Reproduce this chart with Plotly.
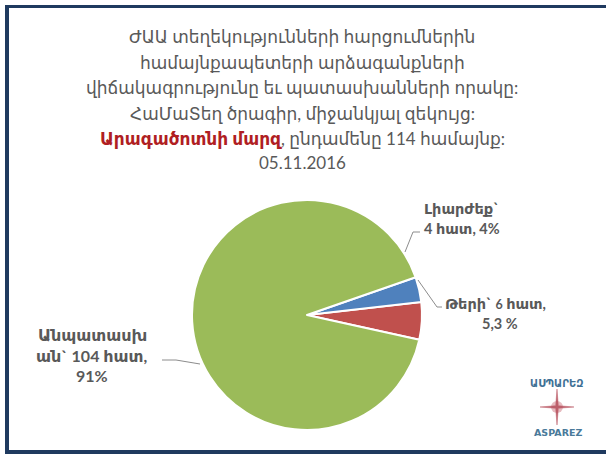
import plotly.graph_objects as go

# ---- data ----
categories = ["Թերի", "Լիարժեք", "Անպատասխան"]
counts = [6, 4, 104]
percent_labels = ["5,3 %", "4%", "91%"]
colors = ["#C0504D", "#4F81BD", "#9BBB59"]

title_lines = [
    "ԺԱԱ տեղեկությունների հարցումներին",
    "համայնքապետերի արձագանքների",
    "վիճակագրությունը եւ պատասխանների որակը:",
    "ՀաՄաՏեղ ծրագիր, միջանկյալ զեկույց:",
    "<b><span style='color:#B01E23'>Արագածոտնի մարզ</span></b>, ընդամենը 114 համայնք:",
    "05.11.2016",
]

W, H = 606, 456
FONT = "Lato, 'DejaVu Sans', sans-serif"
GRAY = "#595959"

def px(x):
    return x / W

def py(y):
    return 1 - y / H

fig = go.Figure()

# pie: center / radius in pixels
cx, cy, r = 307, 315, 115
fig.add_trace(go.Pie(
    labels=categories,
    values=counts,
    sort=False,
    direction="counterclockwise",
    rotation=83.5,
    marker=dict(colors=colors, line=dict(color="white", width=2)),
    textinfo="none",
    hoverinfo="label+value+percent",
    showlegend=False,
    domain=dict(x=[px(cx - r), px(cx + r)], y=[py(cy + r), py(cy - r)]),
))

annotations = []
ys = [37, 62.5, 88, 113.5, 138.5, 163]
for t, y in zip(title_lines, ys):
    annotations.append(dict(
        text=t, x=px(302), y=py(y), xref="paper", yref="paper",
        xanchor="center", yanchor="middle", showarrow=False,
        font=dict(family=FONT, size=17, color=GRAY),
    ))

lab_font = dict(family=FONT, size=14.5, color=GRAY)
# Լիարժեք label
annotations.append(dict(text=f"<b>{categories[1]}`</b>", x=px(422), y=py(208), xref="paper", yref="paper",
                        xanchor="left", yanchor="middle", showarrow=False, font=lab_font))
annotations.append(dict(text=f"<b>{counts[1]} հատ, {percent_labels[1]}</b>", x=px(422), y=py(229), xref="paper", yref="paper",
                        xanchor="left", yanchor="middle", showarrow=False, font=lab_font))
# Թերի label
annotations.append(dict(text=f"<b>{categories[0]}` </b><b style='font-size:12.5px'>{counts[0]}</b><b> հատ,</b>", x=px(443), y=py(303), xref="paper", yref="paper",
                        xanchor="left", yanchor="middle", showarrow=False, font=lab_font))
annotations.append(dict(text=f"<b>{percent_labels[0]}</b>", x=px(500), y=py(323), xref="paper", yref="paper",
                        xanchor="center", yanchor="middle", showarrow=False, font=lab_font))
# Անպատասխան label
green_font = dict(family=FONT, size=16, color=GRAY)
green_lines = ["Անպատասխ", f"ան` {counts[2]} հատ,", percent_labels[2]]
for t, y in zip(green_lines, [334, 355, 375]):
    annotations.append(dict(text=f"<b>{t}</b>", x=px(92), y=py(y), xref="paper", yref="paper",
                            xanchor="center", yanchor="middle", showarrow=False, font=green_font))

# logo
annotations.append(dict(text="<b>ԱՍՊԱՐԵԶ</b>", x=px(557), y=py(383), xref="paper", yref="paper",
                        xanchor="center", yanchor="middle", showarrow=False,
                        font=dict(family=FONT, size=10, color="#3F7195")))
annotations.append(dict(text="<b>ASPAREZ</b>", x=px(558), y=py(432), xref="paper", yref="paper",
                        xanchor="center", yanchor="middle", showarrow=False,
                        font=dict(family="'DejaVu Sans', sans-serif", size=9.5, color="#4A7A9A")))

shapes = []
line_style = dict(color="#8C8C8C", width=1)
def path(points):
    d = "M " + " L ".join(f"{px(x)},{py(y)}" for x, y in points)
    return d

shapes.append(dict(type="path", xref="paper", yref="paper", path=path([(405, 252), (413, 232), (420, 232)]), line=line_style))
shapes.append(dict(type="path", xref="paper", yref="paper", path=path([(418, 280), (437, 307), (442, 307)]), line=line_style))
shapes.append(dict(type="path", xref="paper", yref="paper", path=path([(162, 360), (176, 360), (200, 364)]), line=line_style))

# star
sx, sy = 557, 407
shapes.append(dict(type="circle", xref="paper", yref="paper", x0=px(sx - 6), x1=px(sx + 6), y0=py(sy + 6), y1=py(sy - 6),
                   fillcolor="rgba(205,120,130,0.5)", line=dict(width=0)))
star = [(sx, sy - 18), (sx + 1.3, sy - 1.3), (sx + 17, sy), (sx + 1.3, sy + 1.3), (sx, sy + 18),
        (sx - 1.3, sy + 1.3), (sx - 17, sy), (sx - 1.3, sy - 1.3)]
shapes.append(dict(type="path", xref="paper", yref="paper", path=path(star) + " Z",
                   fillcolor="#BC5E6A", line=dict(color="#BC5E6A", width=0.5)))

# frame
NAVY = "#1F3A5F"
shapes.append(dict(type="rect", xref="paper", yref="paper", x0=px(5), x1=px(606), y0=py(5), y1=py(8),
                   fillcolor=NAVY, line=dict(width=0)))
shapes.append(dict(type="rect", xref="paper", yref="paper", x0=px(5), x1=px(9), y0=py(453), y1=py(5),
                   fillcolor=NAVY, line=dict(width=0)))
shapes.append(dict(type="rect", xref="paper", yref="paper", x0=px(5), x1=px(606), y0=py(454), y1=py(450),
                   fillcolor=NAVY, line=dict(width=0)))

fig.update_layout(
    width=W, height=H,
    margin=dict(l=0, r=0, t=0, b=0),
    paper_bgcolor="white", plot_bgcolor="white",
    annotations=annotations,
    shapes=shapes,
)

fig.write_html("out.html", config={"displayModeBar": False},
               post_script="document.body.style.margin='0';document.body.style.overflow='hidden';")
